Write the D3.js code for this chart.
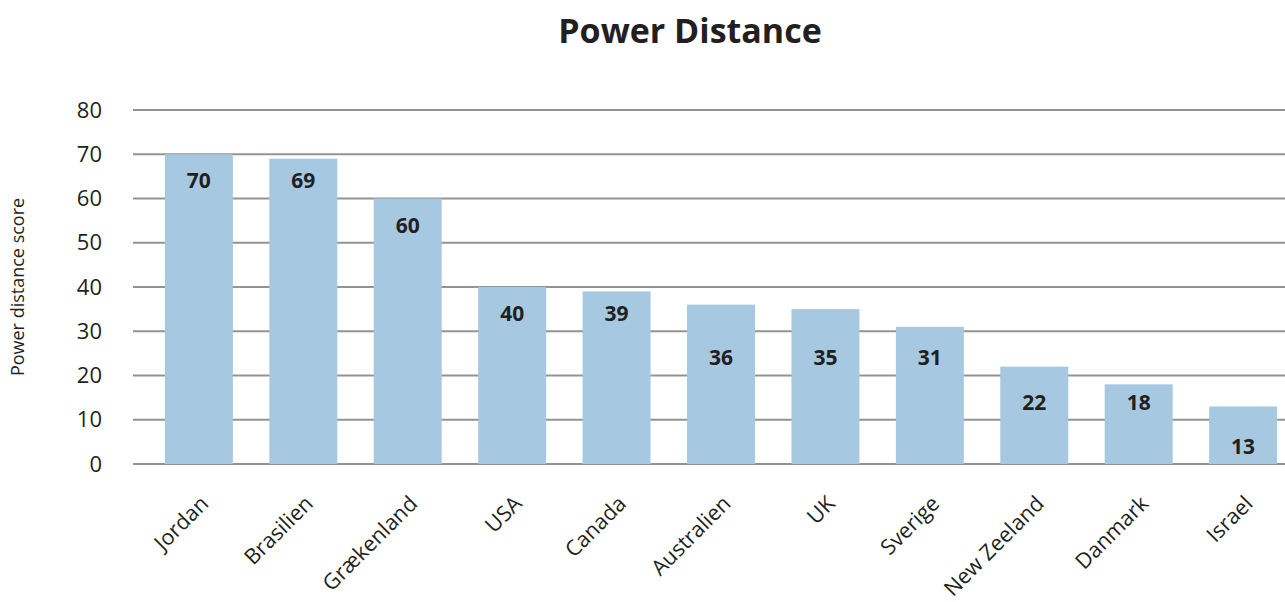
<!DOCTYPE html>
<html><head><meta charset="utf-8">
<script src="https://cdn.jsdelivr.net/npm/d3@7"></script>
<style>body{margin:0;background:#fff;} svg{display:block;font-family:"Open Sans",sans-serif;}</style>
</head><body>
<svg id="c" width="1285" height="602"></svg>
<script>
const countries = ["Jordan","Brasilien","Grækenland","USA","Canada","Australien","UK","Sverige","New Zeeland","Danmark","Israel"];
const scores = [70,69,60,40,39,36,35,31,22,18,13];
const yTicks = [0,10,20,30,40,50,60,70,80];
const title = "Power Distance";
const yTitle = "Power distance score";

const svg = d3.select("#c");
const gridX0 = 133, gridX1 = 1285;
const y = d3.scaleLinear().domain([0,80]).range([464,110]);
const x = d3.scaleBand().domain(countries).range([144,1298]).paddingInner(0.349).paddingOuter(0.2);

// gridlines
svg.append("g").selectAll("line").data(yTicks).join("line")
  .attr("x1",gridX0).attr("x2",gridX1)
  .attr("y1",d=>y(d)).attr("y2",d=>y(d))
  .attr("stroke","#939393").attr("stroke-width",2);

// y axis labels
const yAxis = d3.axisLeft(y).tickValues(yTicks).tickSize(0).tickPadding(0);
const ga = svg.append("g").attr("transform","translate(102,0)").call(yAxis);
ga.select(".domain").remove();
ga.selectAll("text").attr("font-size",22).attr("fill","#231f20").attr("font-family","Open Sans");

// bars
svg.append("g").selectAll("rect").data(countries).join("rect")
  .attr("x",d=>x(d)).attr("width",x.bandwidth())
  .attr("y",(d,i)=>y(scores[i])).attr("height",(d,i)=>y(0)-y(scores[i]))
  .attr("fill","#a6c8e0");

// value labels (centered in gridline band below the bar top)
svg.append("g").selectAll("text").data(countries).join("text")
  .attr("x",d=>x(d)+x.bandwidth()/2)
  .attr("y",(d,i)=>y(Math.floor((scores[i]-7)/10)*10+5)+4)
  .attr("text-anchor","middle").attr("dominant-baseline","central")
  .attr("font-size",21).attr("font-weight","bold").attr("fill","#231f20")
  .text((d,i)=>scores[i]);

// x labels
svg.append("g").selectAll("text").data(countries).join("text")
  .attr("transform",d=>`translate(${x(d)+x.bandwidth()/2+11},${505}) rotate(-45)`)
  .attr("text-anchor","end")
  .attr("font-size",21.5).attr("fill","#231f20")
  .text(d=>d);

// title
svg.append("text").attr("x",690).attr("y",43).attr("text-anchor","middle")
  .attr("font-size",34).attr("font-weight","bold").attr("fill","#231f20").text(title);

// y title
svg.append("text").attr("transform","translate(24,287) rotate(-90)")
  .attr("text-anchor","middle").attr("font-size",18).attr("fill","#231f20").text(yTitle);
</script>
</body></html>
